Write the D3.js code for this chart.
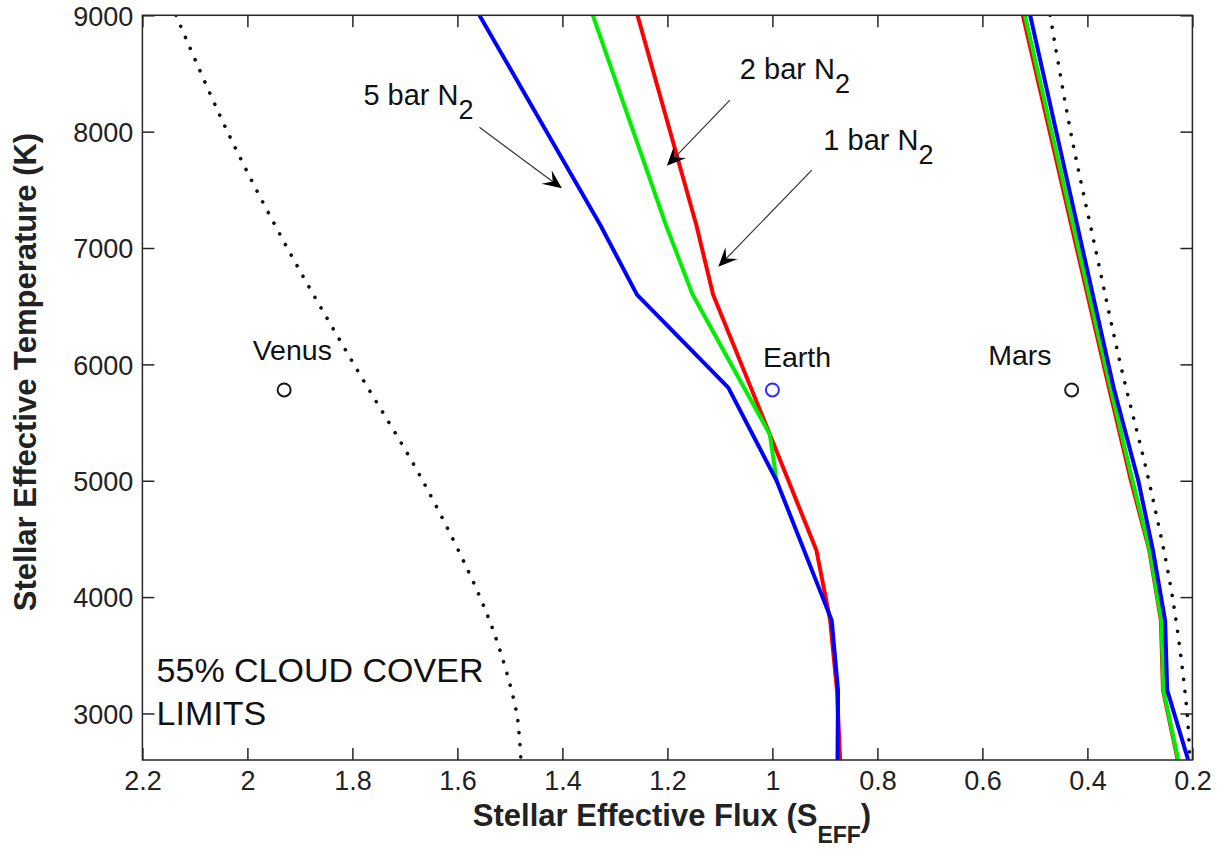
<!DOCTYPE html>
<html>
<head>
<meta charset="utf-8">
<script src="https://cdn.jsdelivr.net/npm/d3@7"></script>
<style>
  html, body { margin: 0; padding: 0; background: #fff; }
  svg { display: block; font-family: "Liberation Sans", Arial, Helvetica, sans-serif; }
</style>
</head>
<body>
<svg id="chart" width="1224" height="859"></svg>
<script>
// ---------------- data ----------------
const xTicks = [2.2, 2.0, 1.8, 1.6, 1.4, 1.2, 1.0, 0.8, 0.6, 0.4, 0.2];
const yTicks = [3000, 4000, 5000, 6000, 7000, 8000, 9000];

// inner edge (moist greenhouse / water-loss limits)
const innerRedTemp   = [9000, 7200, 6600, 5400, 4400, 3800, 3200, 2600];
const innerRedFlux   = [1.257, 1.145, 1.113, 1.005, 0.916, 0.890, 0.877, 0.871];
const innerGreenTemp = [9000, 7200, 6600, 5400, 5000];
const innerGreenFlux = [1.342, 1.203, 1.152, 1.005, 0.992];
const innerBlueTemp  = [9000, 7200, 6600, 5800, 5000, 3800, 3200, 2600];
const innerBlueFlux  = [1.558, 1.328, 1.258, 1.084, 0.992, 0.887, 0.875, 0.876];

// outer edge (maximum greenhouse limits)
const outerTemp      = [9000, 5800, 5000, 4400, 3800, 3200, 2600];
const outerRedFlux   = [0.523, 0.359, 0.317, 0.282, 0.260, 0.256, 0.228];
const outerGreenFlux = [0.519, 0.356, 0.314, 0.281, 0.259, 0.255, 0.227];
const outerBlueFlux  = [0.509, 0.350, 0.303, 0.275, 0.252, 0.248, 0.208];

// 55% cloud cover limits (dotted)
const cloudInnerTemp = [9000, 8000, 7000, 6000, 5000, 4000, 3500, 3000, 2800, 2600];
const cloudInnerFlux = [2.136, 2.038, 1.924, 1.797, 1.666, 1.557, 1.516, 1.487, 1.482, 1.479];
const cloudOuterTemp = [9000, 8000, 7000, 6000, 5000, 4000, 3000, 2600];
const cloudOuterFlux = [0.471, 0.432, 0.385, 0.337, 0.283, 0.238, 0.210, 0.205];

// planets
const planetNames = ["Venus", "Earth", "Mars"];
const planetFlux  = [1.93, 1.0, 0.43];
const planetTemp  = [5780, 5780, 5780];
const planetLabelFlux = [1.990, 1.018, 0.589];
const planetLabelTemp = [6037, 5979, 5994];

// annotations: label text, label anchor, arrow start, arrow tip (data units)
const annoText      = ["5 bar N", "2 bar N", "1 bar N"];
const annoSub       = ["2", "2", "2"];
const annoLabelFlux = [1.779, 1.062, 0.903];
const annoLabelTemp = [8229, 8452, 7842];
const arrowFromFlux = [1.558, 1.081, 0.925];
const arrowFromTemp = [8037, 8271, 7670];
const arrowToFlux   = [1.401, 1.201, 1.103];
const arrowToTemp   = [7513, 7707, 6839];

const noteLines = ["55% CLOUD COVER", "LIMITS"];
const noteFlux  = 2.173;
const noteTemp  = [3272, 2899];

// ---------------- layout ----------------
const svg = d3.select("#chart");
const L = 142.4, R = 1192.4, T = 15.3, B = 760;
const x = d3.scaleLinear().domain([2.2, 0.2]).range([L, R]);
const y = d3.scaleLinear().domain([2600, 9000]).range([B, T]);
const axisColor = "#262626";
const fontTick = 27;

svg.append("defs").append("clipPath").attr("id", "clip")
  .append("rect").attr("x", L).attr("y", T).attr("width", R - L).attr("height", B - T);

const plot = svg.append("g").attr("clip-path", "url(#clip)");

function series(temps, fluxes) { return temps.map((t, i) => ({ t: t, f: fluxes[i] })); }
const lineGen = d3.line().x(d => x(d.f)).y(d => y(d.t));
const smoothGen = d3.line().x(d => x(d.f)).y(d => y(d.t)).curve(d3.curveCatmullRom.alpha(0.5));

// dotted cloud limits
[[cloudInnerTemp, cloudInnerFlux], [cloudOuterTemp, cloudOuterFlux]].forEach(([t, f]) => {
  plot.append("path").datum(series(t, f))
    .attr("d", smoothGen)
    .attr("fill", "none").attr("stroke", "#111")
    .attr("stroke-width", 3.6).attr("stroke-linecap", "round")
    .attr("stroke-dasharray", "0.1 12");
});

const lw = 4;
const lines = [
  [innerRedTemp, innerRedFlux, "#ff0000"],
  [outerTemp, outerRedFlux, "#ff0000"],
  [innerGreenTemp, innerGreenFlux, "#00ee00"],
  [outerTemp, outerGreenFlux, "#00ee00"],
  [innerBlueTemp, innerBlueFlux, "#0000ff"],
  [outerTemp, outerBlueFlux, "#0000ff"]
];
lines.forEach(([t, f, c]) => {
  plot.append("path").datum(series(t, f))
    .attr("d", lineGen)
    .attr("fill", "none").attr("stroke", c)
    .attr("stroke-width", lw).attr("stroke-linejoin", "round");
});

// planets
planetNames.forEach((n, i) => {
  svg.append("circle")
    .attr("cx", x(planetFlux[i])).attr("cy", y(planetTemp[i])).attr("r", 6.5)
    .attr("fill", "none")
    .attr("stroke", n === "Earth" ? "#2b2bff" : "#1a1a1a")
    .attr("stroke-width", 2);
  svg.append("text")
    .attr("x", x(planetLabelFlux[i])).attr("y", y(planetLabelTemp[i]))
    .attr("font-size", 28.5).attr("fill", "#111").text(n);
});

// annotations with arrows
annoText.forEach((s, i) => {
  const t = svg.append("text")
    .attr("x", x(annoLabelFlux[i])).attr("y", y(annoLabelTemp[i]))
    .attr("font-size", 29).attr("fill", "#111");
  t.append("tspan").text(s);
  t.append("tspan").attr("dy", 14).attr("font-size", 27).text(annoSub[i]);

  const x0 = x(arrowFromFlux[i]), y0 = y(arrowFromTemp[i]);
  const x1 = x(arrowToFlux[i]),   y1 = y(arrowToTemp[i]);
  const dx = x1 - x0, dy = y1 - y0, len = Math.hypot(dx, dy);
  const ux = dx / len, uy = dy / len, nx = -uy, ny = ux;
  const HL = 19, HW = 8.5;
  svg.append("line")
    .attr("x1", x0).attr("y1", y0)
    .attr("x2", x1 - ux * HL * 0.5).attr("y2", y1 - uy * HL * 0.5)
    .attr("stroke", "#333").attr("stroke-width", 1.2);
  const pts = [
    [x1, y1],
    [x1 - ux * HL + nx * HW, y1 - uy * HL + ny * HW],
    [x1 - ux * HL * 0.6, y1 - uy * HL * 0.6],
    [x1 - ux * HL - nx * HW, y1 - uy * HL - ny * HW]
  ];
  svg.append("path").attr("d", "M" + pts.map(p => p.join(",")).join("L") + "Z")
    .attr("fill", "#000");
});

// note text
noteLines.forEach((s, i) => {
  svg.append("text").attr("x", x(noteFlux)).attr("y", y(noteTemp[i]))
    .attr("font-size", 34).attr("fill", "#111").text(s);
});

// ---------------- axes ----------------
const fmt = v => String(+v.toFixed(1));
const axB = svg.append("g").attr("transform", `translate(0,${B})`)
  .call(d3.axisBottom(x).tickValues(xTicks).tickFormat(fmt).tickSize(-12).tickPadding(11));
const axT = svg.append("g").attr("transform", `translate(0,${T})`)
  .call(d3.axisTop(x).tickValues(xTicks).tickFormat("").tickSize(-12));
const axLft = svg.append("g").attr("transform", `translate(${L},0)`)
  .call(d3.axisLeft(y).tickValues(yTicks).tickFormat(d3.format("d")).tickSize(-12).tickPadding(9));
const axRt = svg.append("g").attr("transform", `translate(${R},0)`)
  .call(d3.axisRight(y).tickValues(yTicks).tickFormat("").tickSize(-12));

[axB, axT, axLft, axRt].forEach(g => {
  g.select(".domain").remove();
  g.selectAll(".tick line").attr("stroke", axisColor).attr("stroke-width", 1.5);
  g.selectAll("text").attr("font-size", fontTick).attr("fill", "#222")
    .attr("font-family", '"Liberation Sans", Arial, sans-serif');
});
axLft.selectAll("text").attr("dy", "0.36em");

svg.append("rect").attr("x", L).attr("y", T).attr("width", R - L).attr("height", B - T)
  .attr("fill", "none").attr("stroke", axisColor).attr("stroke-width", 1.5);

// axis titles
svg.append("text")
  .attr("transform", `translate(36,372) rotate(-90)`)
  .attr("text-anchor", "middle").attr("font-size", 31).attr("font-weight", "bold")
  .attr("fill", "#222").text("Stellar Effective Temperature (K)");

const xt = svg.append("text").attr("x", 672).attr("y", 826)
  .attr("text-anchor", "middle").attr("font-size", 31).attr("font-weight", "bold").attr("fill", "#222");
xt.append("tspan").text("Stellar Effective Flux (S");
xt.append("tspan").attr("dy", 17).attr("font-size", 23).text("EFF");
xt.append("tspan").attr("dy", -17).text(")");
</script>
</body>
</html>
